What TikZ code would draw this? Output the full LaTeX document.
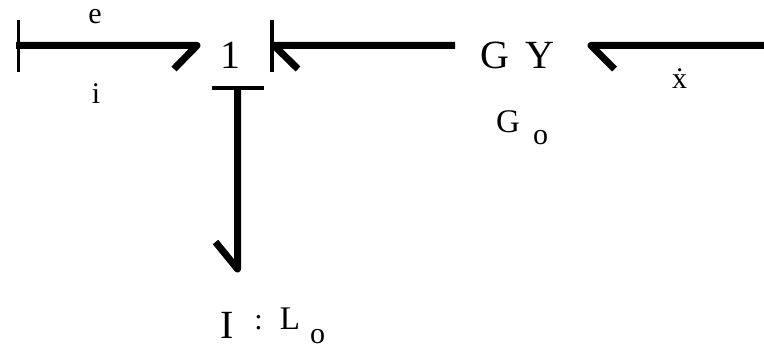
\documentclass[tikz,border=0pt]{standalone}
\usepackage{fontspec}
\setmainfont{Liberation Serif}
\tikzset{
  x=1pt,y=-1pt,
  bond/.style={line width=7pt,line cap=butt,line join=round},
  stroke/.style={line width=3.5pt},
  lab/.style={inner sep=0pt,anchor=base,text=black},
  big/.style={lab,font=\fontsize{40}{40}\selectfont},
  mid/.style={lab,font=\fontsize{33}{33}\selectfont},
  small/.style={lab,font=\fontsize{30}{30}\selectfont}
}
\begin{document}
\begin{tikzpicture}
\useasboundingbox (0,0) rectangle (764,347);
% labels
\node[big] (one) at (230,68.5) {1};
\node[big] (gyg) at (495,68.5) {G};
\node[big] (gyy) at (540,68.5) {Y};
\node[small] (e) at (95,24) {e};
\node[small] (i) at (96,104) {i};
\node[small] (xd) at (679.5,89) {\.x};
\node[mid] (go) at (508,133) {G};
\node[small] (gosub) at (540.5,145) {o};
\node[big] (ii) at (227,339) {I};
\node[small] (colon) at (258.5,330) {:};
\node[mid] (ll) at (290,330) {L};
\node[small] (lsub) at (317.5,344) {o};
% free ends
\coordinate (a0) at (16,45.5);
\coordinate (a1) at (197,45.5);
\coordinate (a1h) at (174,69);
\coordinate (a0t) at (18.7,20);
\coordinate (a0b) at (18.7,72);
\coordinate (b0) at (455,45.5);
\coordinate (b1) at (274,45.5);
\coordinate (b1h) at (298,69);
\coordinate (b1t) at (272,20);
\coordinate (b1b) at (272,72);
\coordinate (c0) at (764,45.5);
\coordinate (c1) at (591,45.5);
\coordinate (c1h) at (614.5,69);
\coordinate (d0) at (237.5,88);
\coordinate (d1) at (237.5,269);
\coordinate (d1h) at (215.5,242);
\coordinate (d0l) at (212,88);
\coordinate (d0r) at (264,88);
% connectors
\draw[bond] (a0) -- (a1) -- (a1h);
\draw[stroke] (a0t) -- (a0b);
\draw[bond] (b0) -- (b1) -- (b1h);
\draw[stroke] (b1t) -- (b1b);
\draw[bond] (c0) -- (c1) -- (c1h);
\draw[bond] (d0) -- (d1) -- (d1h);
\draw[stroke] (d0l) -- (d0r);
\end{tikzpicture}
\end{document}
